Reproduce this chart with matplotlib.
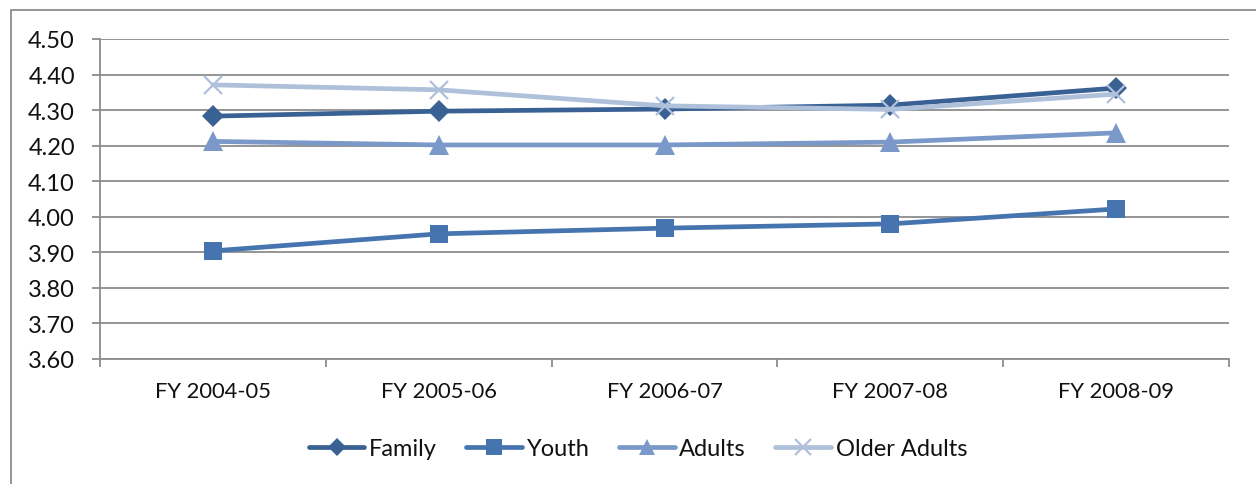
import matplotlib
matplotlib.use("Agg")
import matplotlib.pyplot as plt
from matplotlib.patches import Rectangle
import numpy as np

years = ["FY 2004-05", "FY 2005-06", "FY 2006-07", "FY 2007-08", "FY 2008-09"]
family = [4.283, 4.297, 4.303, 4.314, 4.362]
youth = [3.904, 3.952, 3.968, 3.980, 4.022]
adults = [4.212, 4.202, 4.202, 4.210, 4.236]
older_adults = [4.371, 4.357, 4.312, 4.302, 4.345]
y_ticks = [3.60, 3.70, 3.80, 3.90, 4.00, 4.10, 4.20, 4.30, 4.40, 4.50]

plt.rcParams['font.family'] = ['Lato', 'DejaVu Sans']

W, H = 1256, 485
fig = plt.figure(figsize=(W / 100, H / 100), dpi=100)
ax = fig.add_axes([100 / W, 1 - 360 / H, (1229 - 100) / W, 320 / H])

# outer chart frame
fig.patches.append(Rectangle((11 / W, -0.1), 1.2, 1 - 11 / H + 0.1,
                             transform=fig.transFigure, fill=False,
                             edgecolor="#8c8c8c", linewidth=1.3))

grid_c = "#8c8c8c"
x = np.arange(len(years))
series = [
    ("Family", family, "#3a6193", "D", 11),
    ("Youth", youth, "#4674af", "s", 13),
    ("Adults", adults, "#7a98c8", "^", 14),
    ("Older Adults", older_adults, "#afc0da", "x", 13),
]
for name, vals, col, mk, ms in series:
    kw = dict(markeredgewidth=1.6) if mk == "x" else dict(markeredgewidth=0)
    ax.plot(x, vals, color=col, linewidth=3.4, marker=mk, markersize=ms,
            markerfacecolor=col, markeredgecolor=col, label=name, zorder=3,
            solid_capstyle="round", **kw)

ax.set_xlim(-0.5, len(years) - 0.5)
ax.set_ylim(3.60, 4.50)
ax.set_yticks(y_ticks)
ax.set_yticklabels([f"{v:.2f}" for v in y_ticks])
ax.yaxis.grid(True, color=grid_c, linewidth=1.3)
ax.set_axisbelow(True)

ax.set_xticks(x)
ax.set_xticklabels(years)
ax.set_xticks(np.arange(-0.5, len(years)), minor=True)
ax.tick_params(axis="x", which="major", length=0, pad=16, labelsize=15.8,
               labelcolor="#111111")
ax.tick_params(axis="x", which="minor", length=5.5, width=1.3, color=grid_c)
ax.tick_params(axis="y", length=6, width=1.3, color=grid_c, pad=12,
               labelsize=17, labelcolor="#111111")

for s in ["top", "right"]:
    ax.spines[s].set_visible(False)
for s in ["left", "bottom"]:
    ax.spines[s].set_color(grid_c)
    ax.spines[s].set_linewidth(1.3)

handles, labels = ax.get_legend_handles_labels()
leg = fig.legend(handles, labels, loc="center",
                 bbox_to_anchor=(638 / W, 1 - 450 / H),
                 ncol=4, frameon=False, fontsize=17, handlelength=2.35,
                 columnspacing=1.25, handletextpad=0.2, markerscale=0.85,
                 labelcolor="#111111")

fig.savefig("out.png", dpi=100)
